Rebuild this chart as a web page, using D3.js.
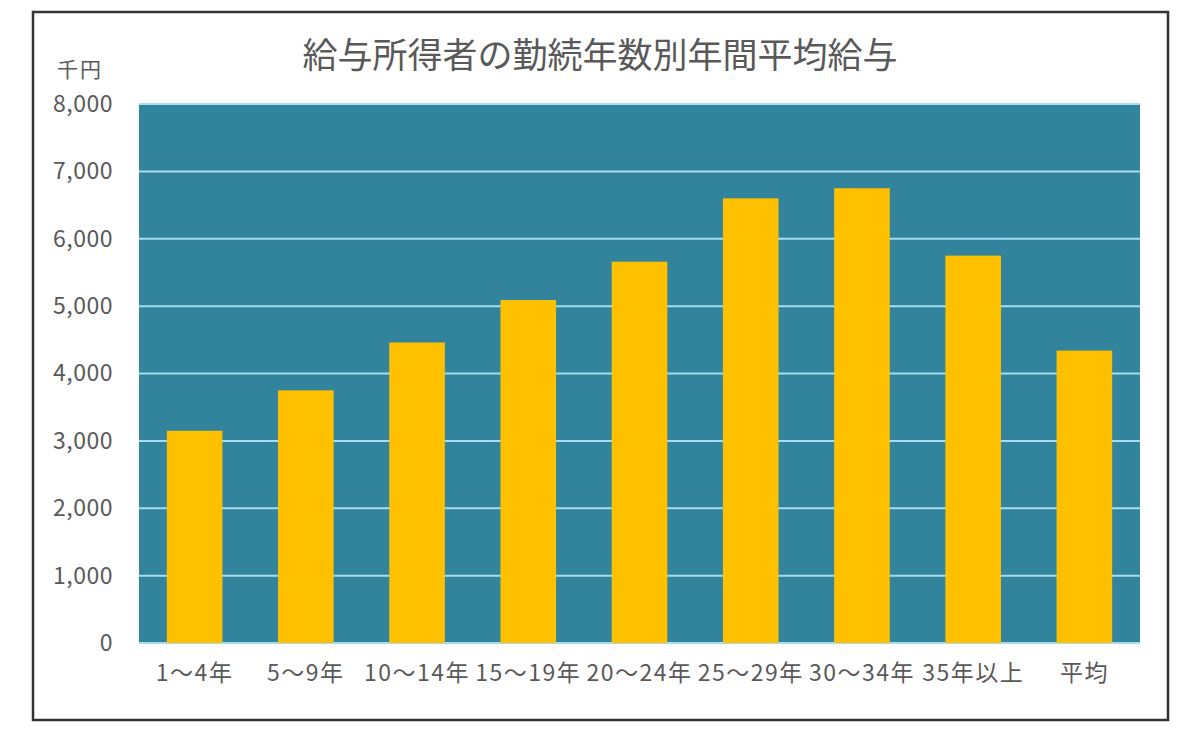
<!DOCTYPE html>
<html>
<head>
<meta charset="utf-8">
<script src="https://cdn.jsdelivr.net/npm/d3@7"></script>
<style>
  body { margin: 0; background: #fff; }
  text { font-family: "Noto Sans CJK JP", "Noto Sans", sans-serif; fill: #595959; }
</style>
</head>
<body>
<script>
var categories = ["1～4年", "5～9年", "10～14年", "15～19年", "20～24年", "25～29年", "30～34年", "35年以上", "平均"];
var salary = [3150, 3750, 4460, 5090, 5660, 6600, 6750, 5750, 4340];
var yTicks = [0, 1000, 2000, 3000, 4000, 5000, 6000, 7000, 8000];

var W = 1200, H = 732;
var margin = {top: 104, right: 60, bottom: 89, left: 139},
    width = 1140 - margin.left,
    height = 643 - margin.top;

var svg = d3.select("body").append("svg")
    .attr("width", W)
    .attr("height", H);

// frame
svg.append("rect")
    .attr("x", 33).attr("y", 12)
    .attr("width", 1135).attr("height", 708)
    .attr("fill", "none")
    .attr("stroke", "#333")
    .attr("stroke-width", 2.5);

svg.append("text")
    .attr("x", 600).attr("y", 68)
    .attr("text-anchor", "middle")
    .style("font-size", "35px")
    .text("給与所得者の勤続年数別年間平均給与");

svg.append("text")
    .attr("x", 80).attr("y", 77)
    .attr("text-anchor", "middle")
    .style("font-size", "21px")
    .style("letter-spacing", "2px")
    .text("千円");

var g = svg.append("g").attr("transform", "translate(" + margin.left + "," + margin.top + ")");

var x = d3.scaleBand().domain(categories).range([0, width]).paddingInner(0.5).paddingOuter(0.25);
var y = d3.scaleLinear().domain([0, 8000]).range([height, 0]);

g.append("rect")
    .attr("width", width)
    .attr("height", height)
    .attr("fill", "#31849b");

g.selectAll(".grid")
    .data(yTicks)
    .enter().append("line")
    .attr("class", "grid")
    .attr("x1", 0).attr("x2", width)
    .attr("y1", function(d) { return y(d); })
    .attr("y2", function(d) { return y(d); })
    .attr("stroke", "#a8dcef")
    .attr("stroke-width", 2);

g.selectAll(".bar")
    .data(salary)
    .enter().append("rect")
    .attr("class", "bar")
    .attr("x", function(d, i) { return x(categories[i]); })
    .attr("y", function(d) { return y(d); })
    .attr("width", x.bandwidth())
    .attr("height", function(d) { return height - y(d); })
    .attr("fill", "#ffc000");

var yAxis = g.append("g")
    .call(d3.axisLeft(y).tickValues(yTicks).tickFormat(d3.format(",")).tickSize(0).tickPadding(26));
yAxis.select(".domain").remove();
yAxis.selectAll("text").style("font-size", "23px").style("letter-spacing", "0.5px").attr("fill", "#595959");

var xAxis = g.append("g")
    .attr("transform", "translate(0," + height + ")")
    .call(d3.axisBottom(x).tickSize(0).tickPadding(22));
xAxis.select(".domain").remove();
xAxis.selectAll("text").style("font-size", "23px").style("letter-spacing", "1.5px").attr("fill", "#595959");
</script>
</body>
</html>
